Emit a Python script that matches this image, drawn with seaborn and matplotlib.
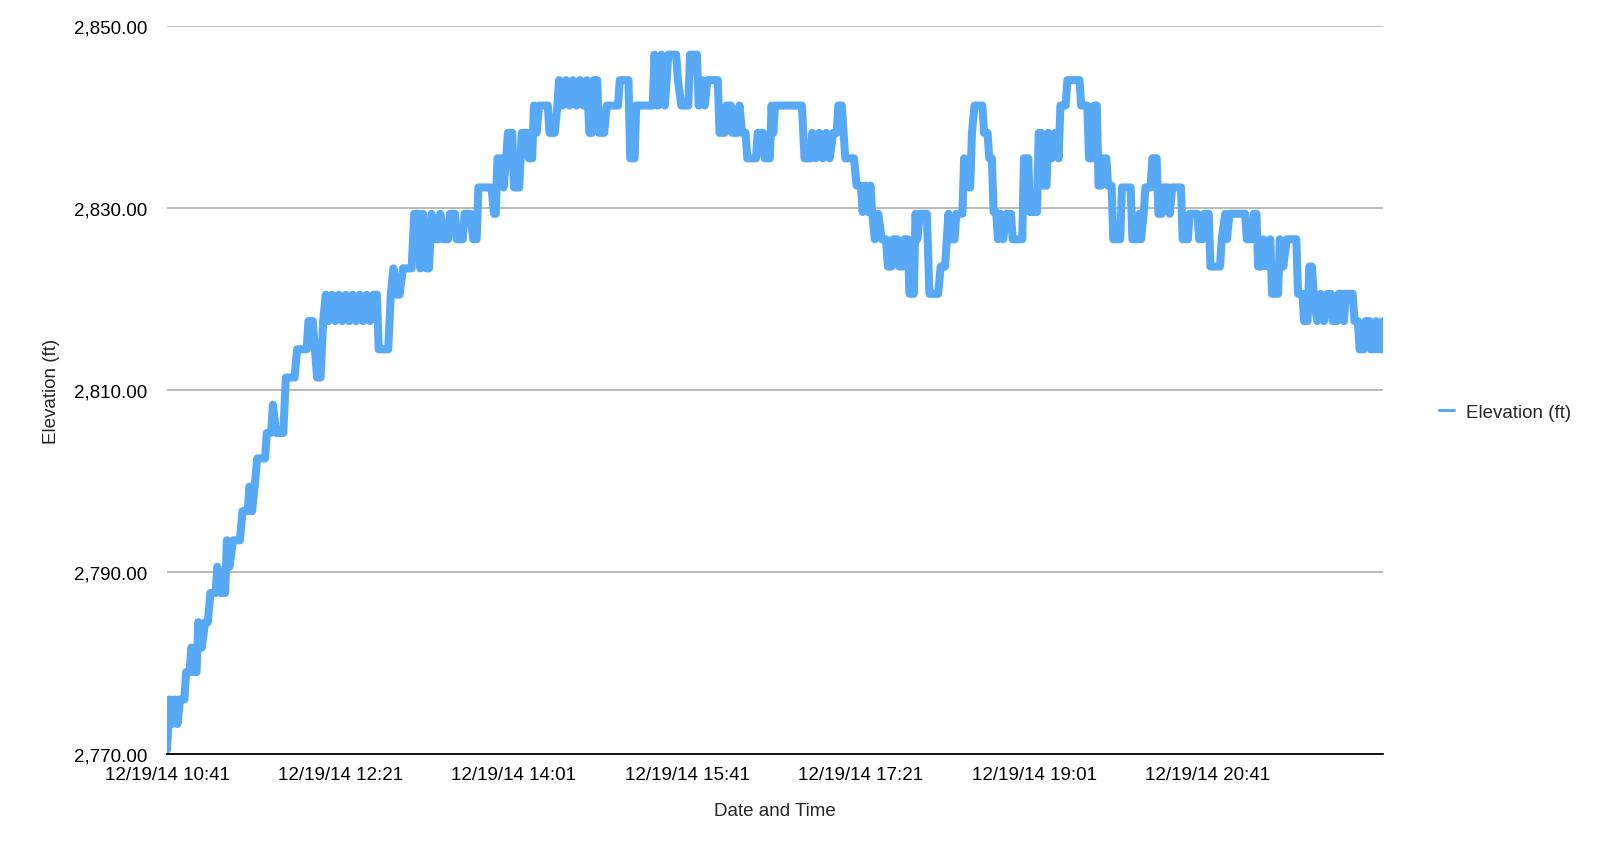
import matplotlib
matplotlib.use("Agg")
import matplotlib.pyplot as plt
from matplotlib.ticker import FuncFormatter
import pandas as pd
import seaborn as sns

# elevation log, 12/19/14, minutes after 10:41
start = pd.Timestamp("2014-12-19 10:41")

minutes = [
    0, 1.5, 3, 4.5, 6, 7.5, 10, 11, 13, 14, 15.5, 17, 18, 20, 22, 23.5, 25, 28, 29, 31,
    33.5, 34.5, 36, 38, 42, 43.5, 46.5, 47.5, 49, 50.5, 52, 56.5, 57.5, 60, 61, 63, 67, 68.5, 73.5, 75,
    80.5, 81.5, 84, 86.5, 88.5, 90, 91.5, 93, 95, 97, 99, 101, 103, 105, 107, 109, 111, 113, 115, 117,
    119, 121, 122, 127.5, 129, 130.5, 132.5, 134, 136, 141,
    142.5, 145, 146, 147.5, 149.5, 151, 152.5, 154.5, 156.5, 157.5, 159.5, 162, 163, 166, 167, 170.5,
    171.5, 175, 176.5, 178.5, 179.5, 187, 188.5, 189.5, 190.5, 193, 194, 195.5, 196.5, 199, 200, 203,
    204.5, 207.5, 208.5, 210.5, 211.5, 213, 214.5, 219.5, 220.5, 223.5, 225, 226, 228, 230, 232, 234,
    236, 238, 240, 242, 243.5, 245, 246, 248, 249, 252, 253.5, 260, 261, 266, 267, 269.5, 270.5,
    280, 281, 283, 285, 287, 289, 293.5, 294.5, 296.5, 300.5, 301.5, 305.5, 306.5, 308.5, 310, 311.5,
    317.5, 318.5, 321.5, 322.5, 325, 326, 329, 330, 331.5, 333.5, 334.5, 339.5, 340.5, 343.5, 344.5,
    347.5, 348.5, 349.5, 350.5, 366, 367.5, 371, 372, 374, 376, 378, 380, 382, 384, 386, 387, 389,
    390, 391, 396, 397.5, 400,
    401, 402.5, 404, 405.5, 406.5, 408, 410, 412, 414.5, 415.5, 417.5, 418.5, 421, 422, 424, 425, 427,
    428, 430.5, 431.5, 432.5, 434, 438, 439.5, 444.5, 446, 448.5, 449.5, 450.5, 451.5, 454, 455, 458.5,
    459.5, 461.5, 463, 464, 465.5, 470, 471, 473, 474, 475.5, 476.5, 478, 479, 480.5, 482, 484, 486.5,
    487.5, 493, 494, 496.5, 497.5, 501.5, 502.5, 504, 505, 507, 508, 510, 512, 514, 515, 518, 519, 526,
    527, 530.5, 531.5, 533.5, 534.5, 536, 537,
    538.5, 539.5, 541.5, 542.5, 544.5, 545.5, 549.5, 550.5, 555.5, 556.5, 559.5, 560.5, 561.5, 563, 564,
    567, 568, 570.5, 571.5, 573.5, 574.5, 577, 578, 579.5, 584.5, 585.5, 588.5, 589.5, 594, 595, 597,
    598, 600.5, 601.5, 607, 608, 610, 611, 612.5, 621.5, 622.5, 625.5, 626.5, 628, 629, 631, 632, 634,
    636, 637, 640.5, 641.5, 643.5, 645.5, 651, 652, 654.5, 655.5, 657.5, 658.5, 660, 661, 663, 665, 667,
    669, 671, 672, 674.5, 675.5, 677.5, 678.5, 679.5, 683.5, 684.5, 686.5, 687.5, 690, 691, 693, 694,
    696, 697, 698.5, 700, 701,
]

elevation_ft = [
    2770.5, 2776.0, 2773.3, 2776.0, 2773.3, 2776.0, 2776.0, 2779.0, 2779.0, 2781.7, 2779.0, 2779.0,
    2784.5, 2781.7, 2784.5, 2784.5, 2787.7, 2787.7, 2790.6, 2787.7,
    2787.7, 2793.5, 2790.6, 2793.5, 2793.5, 2796.7, 2796.7, 2799.4, 2796.7, 2799.4, 2802.5, 2802.5,
    2805.3, 2805.3, 2808.4, 2805.3, 2805.3, 2811.4, 2811.4, 2814.5,
    2814.5, 2817.6, 2817.6, 2811.4, 2811.4, 2817.6, 2820.5, 2817.6, 2820.5, 2817.6, 2820.5, 2817.6,
    2820.5, 2817.6, 2820.5, 2817.6, 2820.5, 2817.6, 2820.5, 2817.6,
    2820.5, 2820.5, 2814.5, 2814.5, 2820.5, 2823.4, 2820.5, 2820.5, 2823.4, 2823.4,
    2829.4, 2829.4, 2823.4, 2829.4, 2823.4, 2823.4, 2829.4, 2826.6, 2826.6, 2829.4, 2826.6, 2826.6,
    2829.4, 2829.4, 2826.6, 2826.6,
    2829.4, 2829.4, 2826.6, 2826.6, 2832.3, 2832.3, 2829.4, 2829.4, 2835.5, 2835.5, 2832.3, 2835.5,
    2838.3, 2838.3, 2832.3, 2832.3,
    2838.3, 2838.3, 2835.5, 2835.5, 2841.3, 2838.3, 2841.3, 2841.3, 2838.3, 2838.3, 2841.3, 2844.1,
    2841.3, 2844.1, 2841.3, 2844.1,
    2841.3, 2844.1, 2841.3, 2844.1, 2838.3, 2838.3, 2844.1, 2844.1, 2838.3, 2838.3, 2841.3, 2841.3,
    2844.1, 2844.1, 2835.5, 2835.5, 2841.3,
    2841.3, 2846.9, 2841.3, 2846.9, 2841.3, 2846.9, 2846.9, 2844.1, 2841.3, 2841.3, 2846.9, 2846.9,
    2841.3, 2844.1, 2841.3, 2844.1,
    2844.1, 2838.3, 2838.3, 2841.3, 2841.3, 2838.3, 2838.3, 2841.3, 2838.3, 2838.3, 2835.5, 2835.5,
    2838.3, 2838.3, 2835.5,
    2835.5, 2841.3, 2838.3, 2841.3, 2841.3, 2835.5, 2835.5, 2838.3, 2835.5, 2838.3, 2835.5, 2838.3,
    2835.5, 2838.3, 2838.3, 2841.3, 2841.3,
    2838.3, 2835.5, 2835.5, 2832.5, 2832.5,
    2829.6, 2832.5, 2829.6, 2832.5, 2829.6, 2826.6, 2829.4, 2826.6, 2826.6, 2823.6, 2823.6, 2826.6,
    2826.6, 2823.6, 2823.6, 2826.6, 2826.6,
    2820.6, 2820.6, 2829.4, 2826.6, 2829.4, 2829.4, 2820.6, 2820.6, 2823.6, 2823.6, 2826.6, 2829.4,
    2826.6, 2826.6, 2829.4, 2829.4,
    2835.5, 2832.3, 2832.3, 2838.3, 2841.3, 2841.3, 2838.3, 2838.3, 2835.5, 2835.5, 2829.6, 2829.6,
    2826.6, 2829.4, 2826.6, 2829.4, 2829.4,
    2826.6, 2826.6, 2835.5, 2835.5, 2829.6, 2829.6, 2838.3, 2838.3, 2832.5, 2832.5, 2838.3, 2835.5,
    2838.3, 2835.5, 2841.3, 2841.3, 2844.1, 2844.1,
    2841.3, 2841.3, 2835.5, 2835.5, 2841.3, 2841.3, 2832.5,
    2832.5, 2835.5, 2835.5, 2832.5, 2832.5, 2826.6, 2826.6, 2832.3, 2832.3, 2826.6, 2826.6, 2829.4,
    2826.6, 2829.4, 2832.3,
    2832.3, 2835.5, 2835.5, 2829.4, 2829.4, 2832.3, 2832.3, 2829.4, 2832.3, 2832.3, 2826.6, 2826.6,
    2829.4, 2829.4, 2826.6, 2826.6,
    2829.4, 2829.4, 2823.6, 2823.6, 2826.6, 2829.4, 2826.6, 2829.4, 2829.4, 2826.6, 2826.6, 2829.4,
    2829.4, 2823.6, 2823.6, 2826.6, 2823.6,
    2826.6, 2820.6, 2820.6, 2826.6, 2823.6, 2826.6, 2826.6, 2820.6, 2820.6, 2817.6, 2817.6, 2823.6,
    2823.6, 2820.6, 2817.6, 2820.6, 2817.6,
    2820.6, 2820.6, 2817.6, 2817.6, 2820.6, 2820.6, 2817.6, 2820.6, 2820.6, 2817.6, 2817.6, 2814.5,
    2814.5, 2817.6, 2817.6, 2814.5,
    2814.5, 2817.6, 2814.5, 2814.5, 2817.6,
]

tick_minutes = [0, 100, 200, 300, 400, 500, 600]
y_ticks = [2770, 2790, 2810, 2830, 2850]

df = pd.DataFrame({
    "Date and Time": start + pd.to_timedelta(minutes, unit="min"),
    "Elevation (ft)": elevation_ft,
})

sns.set_style("white")
plt.rcParams["font.family"] = ["Liberation Sans", "DejaVu Sans"]

fig = plt.figure(figsize=(16, 8.53), dpi=100)
ax = fig.add_axes([0.1044, 0.1149, 0.7600, 0.8529])

sns.lineplot(data=df, x="Date and Time", y="Elevation (ft)", ax=ax, estimator=None,
             color="#57a9f6", linewidth=5.8, label="Elevation (ft)")

ax.set_xlim(df["Date and Time"].iloc[0], df["Date and Time"].iloc[-1])
ax.set_ylim(2770, 2850)
ax.set_yticks(y_ticks)
ax.yaxis.set_major_formatter(FuncFormatter(lambda v, p: f"{v:,.2f}"))

xt = start + pd.to_timedelta(tick_minutes, unit="min")
ax.set_xticks(xt)
ax.set_xticklabels([t.strftime("%m/%d/%y %H:%M") for t in xt])

ax.grid(axis="y", color="#b4b4b4", linewidth=1.3)
ax.grid(axis="x", visible=False)
ax.tick_params(length=0, labelsize=13.5, colors="black")
ax.tick_params(axis="y", pad=14)
ax.tick_params(axis="x", pad=9)
for s in ["top", "right", "left"]:
    ax.spines[s].set_visible(False)
ax.spines["bottom"].set_color("black")
ax.spines["bottom"].set_linewidth(1.3)

ax.set_xlabel("Date and Time", fontsize=13.5, labelpad=13)
ax.set_ylabel("Elevation (ft)", fontsize=13.5, labelpad=10)

leg = ax.legend(loc="center left", bbox_to_anchor=(1439 / 1600, 1 - 413 / 853),
                bbox_transform=fig.transFigure, frameon=False, fontsize=13.5,
                handlelength=0.8, handletextpad=0.65, borderpad=0, borderaxespad=0)
for line in leg.get_lines():
    line.set_linewidth(2.2)

fig.savefig("out.png", dpi=100)
